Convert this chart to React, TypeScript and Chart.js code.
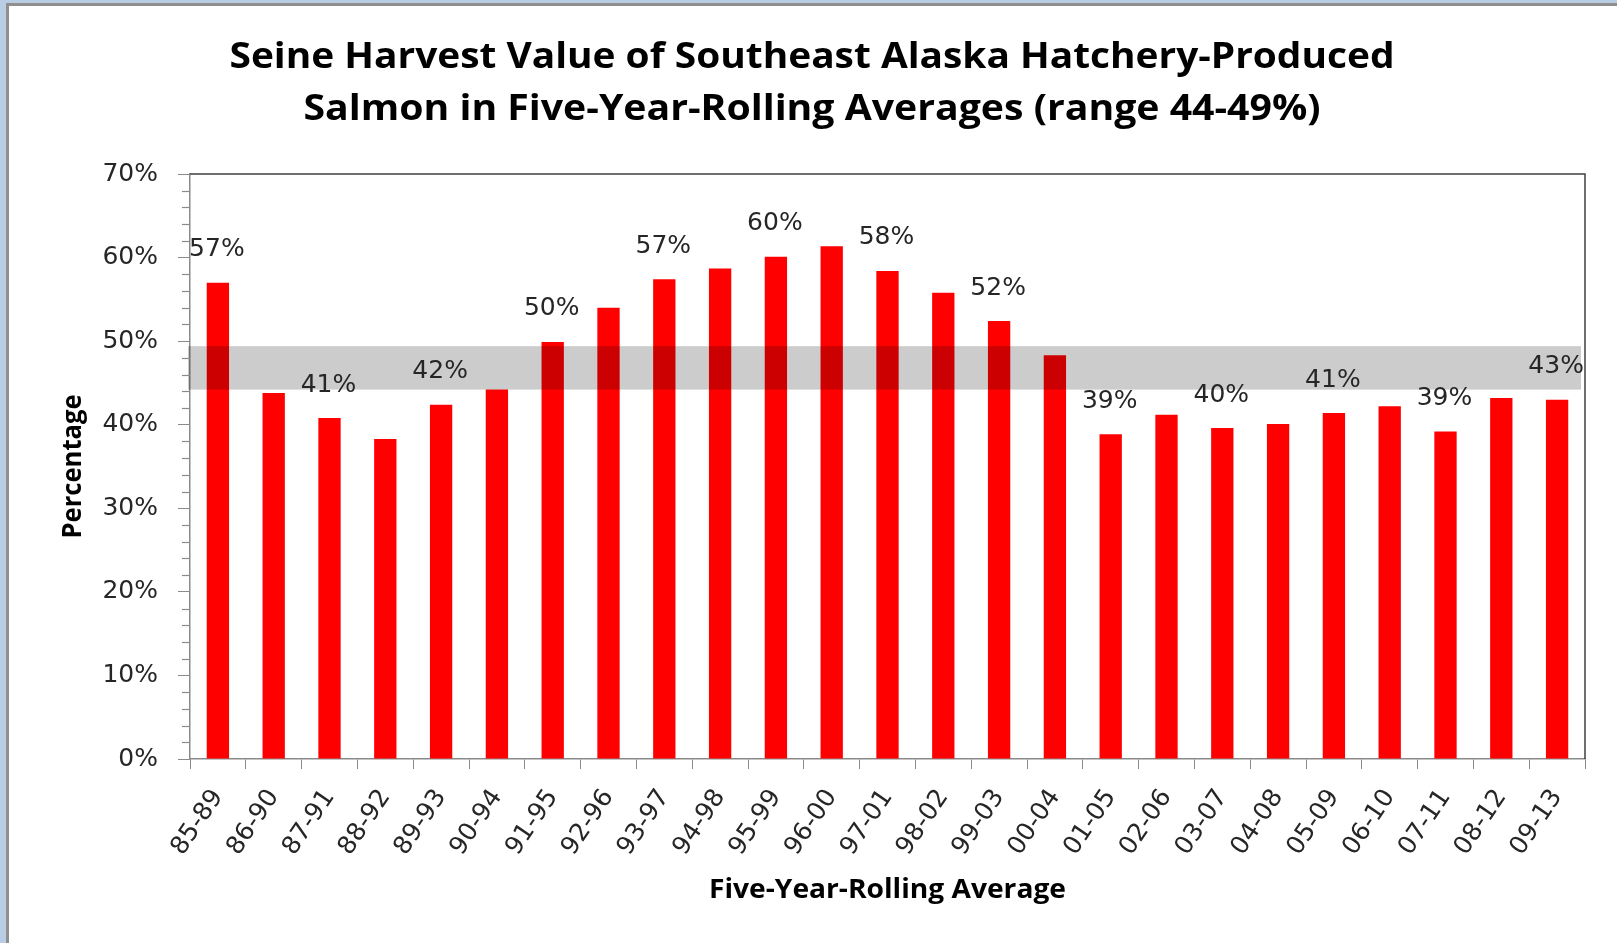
import React, { useEffect, useRef } from 'react';
import { Chart, registerables } from 'chart.js';

Chart.register(...registerables);

const categories = ['85-89', '86-90', '87-91', '88-92', '89-93', '90-94', '91-95', '92-96', '93-97', '94-98', '95-99', '96-00', '97-01', '98-02', '99-03', '00-04', '01-05', '02-06', '03-07', '04-08', '05-09', '06-10', '07-11', '08-12', '09-13'];
const values = [57.0, 43.8, 40.8, 38.3, 42.4, 44.2, 49.9, 54.0, 57.4, 58.7, 60.1, 61.35, 58.4, 55.8, 52.4, 48.3, 38.85, 41.2, 39.6, 40.1, 41.4, 42.2, 39.2, 43.2, 43.0];
const barLabels = ['57%', '', '41%', '', '42%', '', '50%', '', '57%', '', '60%', '', '58%', '', '52%', '', '39%', '', '40%', '', '41%', '', '39%', '', '43%'];
const bandLow = 44.2;
const bandHigh = 49.4;
const yMin = 0;
const yMax = 70;
const yMajorStep = 10;
const yMinorStep = 2;
const titleLines = ['Seine Harvest Value of Southeast Alaska Hatchery-Produced', 'Salmon in Five-Year-Rolling Averages (range 44-49%)'];
const yTitle = 'Percentage';
const xTitle = 'Five-Year-Rolling Average';

const W = 1617;
const H = 943;
const PLOT_LEFT = 190;
const PLOT_TOP = 174;
const PLOT_RIGHT = 1585;
const PLOT_BOTTOM = 759;

const TEXT = '#262626';
const AXIS = '#8a8a8a';
const BOLD_FONT = '"Open Sans", Lato, sans-serif';
const LABEL_FONT = '"DejaVu Sans", Verdana, sans-serif';

function drawFitted(ctx: CanvasRenderingContext2D, text: string, x: number, y: number, font: string, targetWidth: number, rotation: number) {
  ctx.save();
  ctx.font = font;
  const w = ctx.measureText(text).width;
  const sx = w > 0 ? targetWidth / w : 1;
  ctx.translate(x, y);
  if (rotation) ctx.rotate(rotation);
  ctx.scale(sx, 1);
  ctx.fillStyle = '#000000';
  ctx.textAlign = 'center';
  ctx.textBaseline = 'alphabetic';
  ctx.fillText(text, 0, 0);
  ctx.restore();
}

const framePlugin = {
  id: 'frame',
  beforeDraw(chart: any) {
    const ctx = chart.ctx;
    ctx.save();
    ctx.fillStyle = '#b9cde5';
    ctx.fillRect(0, 0, W, H);
    ctx.fillStyle = '#8f8f8f';
    ctx.fillRect(6, 3, W - 6, H - 3);
    ctx.fillStyle = '#ffffff';
    ctx.fillRect(9, 6, W - 9, H - 6);
    ctx.restore();
  },
};

const extrasPlugin = {
  id: 'extras',
  afterDatasetsDraw(chart: any) {
    const ctx = chart.ctx;
    const { left, right, top, bottom } = chart.chartArea;
    const y = chart.scales.y;
    ctx.save();
    // reference band
    const yHi = y.getPixelForValue(bandHigh);
    const yLo = y.getPixelForValue(bandLow);
    ctx.fillStyle = 'rgba(0,0,0,0.2)';
    ctx.fillRect(left - 2, yHi, right - 4 - (left - 2), yLo - yHi);
    // top & right border
    ctx.strokeStyle = '#404040';
    ctx.lineWidth = 1.5;
    ctx.beginPath();
    ctx.moveTo(left, top);
    ctx.lineTo(right, top);
    ctx.lineTo(right, bottom);
    ctx.stroke();
    // minor ticks
    ctx.strokeStyle = AXIS;
    ctx.lineWidth = 1.2;
    for (let v = yMin; v <= yMax; v += yMinorStep) {
      if (v % yMajorStep === 0) continue;
      const py = Math.round(y.getPixelForValue(v)) + 0.5;
      ctx.beginPath();
      ctx.moveTo(left - 8, py);
      ctx.lineTo(left, py);
      ctx.stroke();
    }
    // data labels
    const meta = chart.getDatasetMeta(0);
    ctx.fillStyle = TEXT;
    ctx.font = '25px ' + LABEL_FONT;
    ctx.textAlign = 'center';
    ctx.textBaseline = 'middle';
    meta.data.forEach((bar: any, i: number) => {
      const t = barLabels[i];
      if (!t) return;
      ctx.fillText(t, bar.x - 1, bar.y - 33);
    });
    ctx.restore();
  },
  afterDraw(chart: any) {
    const ctx = chart.ctx;
    const { left, right, top, bottom } = chart.chartArea;
    const titleFont = 'bold 35px ' + BOLD_FONT;
    drawFitted(ctx, titleLines[0], 812, 68, titleFont, 1165, 0);
    drawFitted(ctx, titleLines[1], 812, 120, titleFont, 1017, 0);
    const axisFont = 'bold 26px ' + BOLD_FONT;
    drawFitted(ctx, xTitle, (left + right) / 2, 898, axisFont, 357, 0);
    drawFitted(ctx, yTitle, 81, (top + bottom) / 2, axisFont, 144, -Math.PI / 2);
  },
};

export default function App() {
  const ref = useRef<HTMLCanvasElement | null>(null);
  useEffect(() => {
    if (!ref.current) return;
    const chart = new Chart(ref.current, {
      type: 'bar',
      data: {
        labels: categories,
        datasets: [
          {
            data: values,
            backgroundColor: '#ff0000',
            borderWidth: 0,
            barPercentage: 0.8,
            categoryPercentage: 0.5,
          },
        ],
      },
      options: {
        responsive: false,
        animation: false,
        devicePixelRatio: 1,
        layout: { padding: { left: 0, right: W - PLOT_RIGHT, top: PLOT_TOP, bottom: 0 } },
        plugins: {
          legend: { display: false },
          tooltip: { enabled: false },
          title: { display: false },
        },
        scales: {
          x: {
            grid: { drawOnChartArea: false, tickLength: 10, color: AXIS, offset: true },
            border: { color: AXIS, width: 1.5 },
            ticks: {
              autoSkip: false,
              maxRotation: 56,
              minRotation: 56,
              color: TEXT,
              padding: 15,
              font: { family: LABEL_FONT, size: 25 },
            },
            afterFit(scale: any) {
              scale.height = H - PLOT_BOTTOM;
            },
          },
          y: {
            min: yMin,
            max: yMax,
            ticks: {
              stepSize: yMajorStep,
              color: TEXT,
              padding: 20,
              font: { family: LABEL_FONT, size: 25 },
              callback: (v: any) => v + '%',
            },
            grid: { drawOnChartArea: false, tickLength: 12, color: AXIS },
            border: { color: AXIS, width: 1.5 },
            afterFit(scale: any) {
              scale.width = PLOT_LEFT;
            },
          },
        },
      },
      plugins: [framePlugin, extrasPlugin],
    } as any);
    return () => chart.destroy();
  }, []);
  return (
    <div style={{ position: 'absolute', left: 0, top: 0, width: W, height: H }}>
      <canvas ref={ref} width={W} height={H} style={{ display: 'block' }} />
    </div>
  );
}
